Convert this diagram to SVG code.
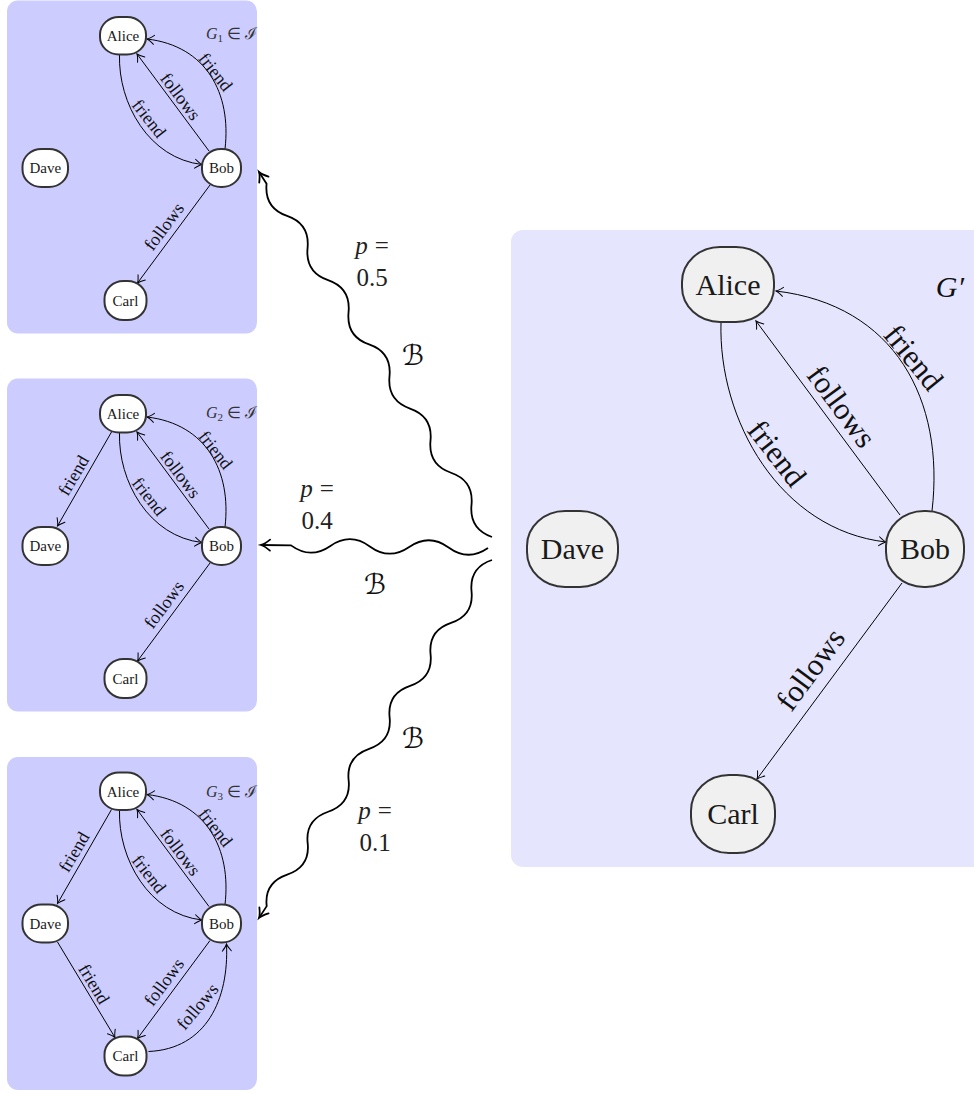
<svg xmlns="http://www.w3.org/2000/svg" width="974" height="1093" viewBox="0 0 974 1093">
<style>
.panelS{fill:#ccccff}
.panelB{fill:#e5e5fd}
.nodeB rect{fill:#f0f0f0;stroke:#333;stroke-width:2}
.nodeS rect{fill:#fff;stroke:#333;stroke-width:4}
.nl{font-family:"Liberation Serif",serif;font-size:30px;text-anchor:middle;fill:#1a1a1a}
.edge{fill:none;stroke:#000;stroke-width:1;marker-end:url(#arr)}
.edgeS{fill:none;stroke:#000;stroke-width:2;marker-end:url(#arrS)}
.el{font-family:"Liberation Serif",serif;font-size:31px;text-anchor:middle;fill:#111}
.elS{font-family:"Liberation Serif",serif;font-size:36px;text-anchor:middle;fill:#111}
.snake{fill:none;stroke:#000;stroke-width:1.8;marker-end:url(#arrT)}
.math{font-family:"Liberation Serif",serif;font-size:25px;text-anchor:middle;fill:#222}
.cal{font-family:"DejaVu Serif","DejaVu Sans",serif;font-size:28px;text-anchor:middle;fill:#111}
.glbl{font-family:"Liberation Serif",serif;font-size:16px;text-anchor:end;fill:#333}
</style>
<defs>
<marker id="arr" markerUnits="userSpaceOnUse" orient="auto" overflow="visible" refX="0" refY="0" markerWidth="10" markerHeight="10">
<path d="M-7 -4.5 Q-2.5 -0.8 0 0 Q-2.5 0.8 -7 4.5" fill="none" stroke="#000" stroke-width="1" stroke-linecap="round"/>
</marker>
<marker id="arrS" markerUnits="userSpaceOnUse" orient="auto" overflow="visible" refX="0" refY="0" markerWidth="20" markerHeight="20">
<path d="M-14 -9 Q-5 -1.6 0 0 Q-5 1.6 -14 9" fill="none" stroke="#000" stroke-width="2" stroke-linecap="round"/>
</marker>
<marker id="arrT" markerUnits="userSpaceOnUse" orient="auto" overflow="visible" refX="0" refY="0" markerWidth="12" markerHeight="12">
<path d="M-9 -5.5 Q-3.5 -1 0 0 Q-3.5 1 -9 5.5" fill="none" stroke="#000" stroke-width="1.8" stroke-linecap="round"/>
</marker>
</defs>

<!-- Panel G1 -->
<g id="panel-g1">
<rect class="panelS" x="7" y="0.5" width="250" height="333" rx="11"/>
<text class="glbl" x="257" y="39"><tspan font-style="italic">G</tspan><tspan font-size="11" dy="3">1</tspan><tspan dy="-3"> ∈ </tspan><tspan font-family="DejaVu Serif">ℐ</tspan></text>
<g transform="translate(-241 -106.5) scale(0.5)">
<g id="g1-edges">
<path class="edgeS" d="M721 322 C718 420 780 530 886 542"/>
<path class="edgeS" d="M900 515 L756 321"/>
<path class="edgeS" d="M932 511 C945 400 895 305 776 291"/>
<path class="edgeS" d="M902 583 L757 779"/>
<text class="elS" transform="translate(780 450) rotate(52)" y="12">friend</text>
<text class="elS" transform="translate(843 406) rotate(53)" y="12">follows</text>
<text class="elS" transform="translate(913 357) rotate(52)" y="12">friend</text>
<text class="elS" transform="translate(810 666) rotate(-53.5)" y="12">follows</text>
</g>
<g id="g1-alice" class="nodeS"><rect x="682" y="247" width="92" height="75" rx="38" ry="35"/><text class="nl" x="728" y="295">Alice</text></g>
<g id="g1-dave" class="nodeS"><rect x="527" y="511" width="91" height="76" rx="38" ry="35"/><text class="nl" x="572.5" y="559">Dave</text></g>
<g id="g1-bob" class="nodeS"><rect x="886" y="511" width="78" height="76" rx="38" ry="35"/><text class="nl" x="925" y="559">Bob</text></g>
<g id="g1-carl" class="nodeS"><rect x="691" y="775" width="84" height="78" rx="38" ry="36"/><text class="nl" x="733" y="824">Carl</text></g>
</g>
</g>

<!-- Panel G2 -->
<g id="panel-g2">
<rect class="panelS" x="7" y="378.5" width="250" height="333" rx="11"/>
<text class="glbl" x="257" y="418"><tspan font-style="italic">G</tspan><tspan font-size="11" dy="3">2</tspan><tspan dy="-3"> ∈ </tspan><tspan font-family="DejaVu Serif">ℐ</tspan></text>
<g transform="translate(-241 271.5) scale(0.5)">
<g id="g2-edges">
<path class="edgeS" d="M721 322 C718 420 780 530 886 542"/>
<path class="edgeS" d="M900 515 L756 321"/>
<path class="edgeS" d="M932 511 C945 400 895 305 776 291"/>
<path class="edgeS" d="M902 583 L757 779"/>
<path class="edgeS" d="M705 321 L597 509"/>
<text class="elS" transform="translate(780 450) rotate(52)" y="12">friend</text>
<text class="elS" transform="translate(843 406) rotate(53)" y="12">follows</text>
<text class="elS" transform="translate(913 357) rotate(52)" y="12">friend</text>
<text class="elS" transform="translate(810 666) rotate(-53.5)" y="12">follows</text>
<text class="elS" transform="translate(629 408) rotate(-59.5)" y="12">friend</text>
</g>
<g id="g2-alice" class="nodeS"><rect x="682" y="247" width="92" height="75" rx="38" ry="35"/><text class="nl" x="728" y="295">Alice</text></g>
<g id="g2-dave" class="nodeS"><rect x="527" y="511" width="91" height="76" rx="38" ry="35"/><text class="nl" x="572.5" y="559">Dave</text></g>
<g id="g2-bob" class="nodeS"><rect x="886" y="511" width="78" height="76" rx="38" ry="35"/><text class="nl" x="925" y="559">Bob</text></g>
<g id="g2-carl" class="nodeS"><rect x="691" y="775" width="84" height="78" rx="38" ry="36"/><text class="nl" x="733" y="824">Carl</text></g>
</g>
</g>

<!-- Panel G3 -->
<g id="panel-g3">
<rect class="panelS" x="7" y="757" width="250" height="333" rx="11"/>
<text class="glbl" x="257" y="796.5"><tspan font-style="italic">G</tspan><tspan font-size="11" dy="3">3</tspan><tspan dy="-3"> ∈ </tspan><tspan font-family="DejaVu Serif">ℐ</tspan></text>
<g transform="translate(-241 649) scale(0.5)">
<g id="g3-edges">
<path class="edgeS" d="M721 322 C718 420 780 530 886 542"/>
<path class="edgeS" d="M900 515 L756 321"/>
<path class="edgeS" d="M932 511 C945 400 895 305 776 291"/>
<path class="edgeS" d="M902 583 L757 779"/>
<path class="edgeS" d="M705 321 L597 509"/>
<path class="edgeS" d="M597 586 L712 777"/>
<path class="edgeS" d="M779 805 C895 800 940 700 935 590"/>
<text class="elS" transform="translate(780 450) rotate(52)" y="12">friend</text>
<text class="elS" transform="translate(843 406) rotate(53)" y="12">follows</text>
<text class="elS" transform="translate(913 357) rotate(52)" y="12">friend</text>
<text class="elS" transform="translate(810 666) rotate(-53.5)" y="12">follows</text>
<text class="elS" transform="translate(630 406) rotate(-59.5)" y="12">friend</text>
<text class="elS" transform="translate(670 670) rotate(59)" y="12">friend</text>
<text class="elS" transform="translate(877 715) rotate(-50)" y="12">follows</text>
</g>
<g id="g3-alice" class="nodeS"><rect x="682" y="247" width="92" height="75" rx="38" ry="35"/><text class="nl" x="728" y="295">Alice</text></g>
<g id="g3-dave" class="nodeS"><rect x="527" y="511" width="91" height="76" rx="38" ry="35"/><text class="nl" x="572.5" y="559">Dave</text></g>
<g id="g3-bob" class="nodeS"><rect x="886" y="511" width="78" height="76" rx="38" ry="35"/><text class="nl" x="925" y="559">Bob</text></g>
<g id="g3-carl" class="nodeS"><rect x="691" y="775" width="84" height="78" rx="38" ry="36"/><text class="nl" x="733" y="824">Carl</text></g>
</g>
</g>

<!-- Panel G' -->
<g id="panel-gprime">
<rect class="panelB" x="511" y="230" width="480" height="637" rx="12"/>
<text x="964" y="297" font-family="Liberation Serif" font-size="30" font-style="italic" text-anchor="end" fill="#111">G′</text>
<g id="gp-edges">
<path class="edge" d="M721 322 C718 420 780 530 886 542"/>
<path class="edge" d="M900 515 L756 321"/>
<path class="edge" d="M932 511 C945 400 895 305 776 291"/>
<path class="edge" d="M902 583 L757 779"/>
<text class="el" transform="translate(777.5 453) rotate(52)" y="11">friend</text>
<text class="el" transform="translate(842 406) rotate(53.5)" y="11">follows</text>
<text class="el" transform="translate(914 357) rotate(51)" y="11">friend</text>
<text class="el" transform="translate(810 669) rotate(-53.5)" y="11">follows</text>
</g>
<g id="gp-alice" class="nodeB"><rect x="682" y="247" width="92" height="75" rx="38" ry="35"/><text class="nl" x="728" y="295">Alice</text></g>
<g id="gp-dave" class="nodeB"><rect x="527" y="511" width="91" height="76" rx="38" ry="35"/><text class="nl" x="572.5" y="559">Dave</text></g>
<g id="gp-bob" class="nodeB"><rect x="886" y="511" width="78" height="76" rx="38" ry="35"/><text class="nl" x="925" y="559">Bob</text></g>
<g id="gp-carl" class="nodeB"><rect x="691" y="775" width="84" height="78" rx="38" ry="36"/><text class="nl" x="733" y="824">Carl</text></g>
</g>

<!-- Sampling connectors -->
<g id="snakes">
<path class="snake" transform="translate(492 537) rotate(237.45)" d="M0 0 Q19 -15 38.1 0 T76.2 0 T114.3 0 T152.4 0 T190.5 0 T228.5 0 T266.6 0 T304.7 0 T342.8 0 T380.9 0 T419 0 L433 0"/>
<path class="snake" transform="translate(488 548) rotate(180.76)" d="M0 0 Q19.7 -14 39.4 0 T78.8 0 T118.2 0 T157.6 0 T197 0 L227 0"/>
<path class="snake" transform="translate(492 560) rotate(123.06)" d="M0 0 Q18.8 15 37.5 0 T75.1 0 T112.6 0 T150.2 0 T187.7 0 T225.3 0 T262.8 0 T300.4 0 T337.9 0 T375.5 0 T413 0 L427 0"/>
<text class="math" x="372" y="253.5"><tspan font-style="italic">p</tspan><tspan dx="7">=</tspan></text>
<text class="math" x="372" y="285.5">0.5</text>
<text class="cal" x="413" y="365">ℬ</text>
<text class="math" x="317" y="496.5"><tspan font-style="italic">p</tspan><tspan dx="7">=</tspan></text>
<text class="math" x="317" y="528.5">0.4</text>
<text class="cal" x="375" y="594">ℬ</text>
<text class="cal" x="413" y="748">ℬ</text>
<text class="math" x="375" y="818.5"><tspan font-style="italic">p</tspan><tspan dx="7">=</tspan></text>
<text class="math" x="375" y="850.5">0.1</text>
</g>
</svg>
